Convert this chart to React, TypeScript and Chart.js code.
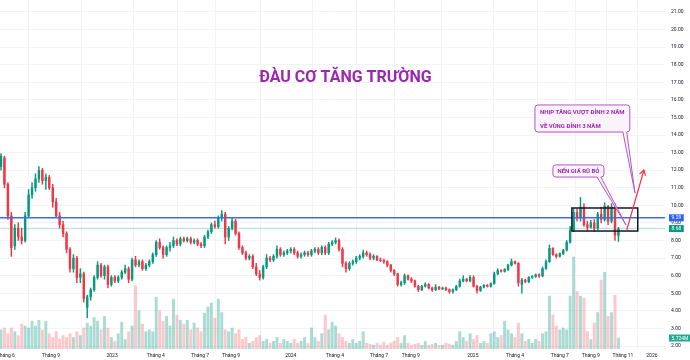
import React, { useEffect, useRef } from "react";
import { Chart, registerables } from "chart.js";

Chart.register(...registerables);

// ---- Weekly OHLC (price, thousand VND) ----
const OPEN = [
  12.2, 12.7, 11.2, 9.4, 7.7, 8.7, 8.2, 8.0, 9.4, 10.6,
  11.0, 11.5, 12.0, 11.4, 11.6, 11.0, 10.2, 9.4, 8.9, 8.4,
  7.5, 6.4, 7.0, 5.9, 6.1, 4.2, 4.8, 5.2, 5.9, 6.6,
  6.0, 6.5, 5.5, 5.9, 5.7, 5.9, 6.2, 6.4, 5.8, 6.9,
  6.6, 6.8, 6.4, 6.6, 6.8, 7.2, 7.9, 7.6, 7.2, 7.6,
  7.7, 8.0, 7.8, 8.1, 8.0, 8.1, 7.9, 8.0, 7.8, 7.7,
  8.2, 8.5, 8.9, 8.8, 9.3, 9.5, 8.2, 8.7, 9.1, 8.4,
  7.6, 7.3, 7.0, 7.1, 6.5, 6.1, 5.9, 6.5, 7.0, 6.9,
  7.1, 7.5, 7.2, 7.3, 7.4, 7.5, 7.3, 7.1, 7.2, 7.3,
  7.2, 7.4, 7.5, 7.3, 7.6, 7.3, 7.8, 7.9, 8.0, 7.5,
  6.7, 6.4, 6.7, 6.8, 7.0, 7.1, 7.3, 7.2, 7.0, 7.1,
  6.9, 6.85, 6.8, 6.6, 6.3, 6.1, 5.5, 5.6, 6.0, 5.8,
  5.7, 5.4, 5.2, 5.4, 5.5, 5.3, 5.2, 5.35, 5.25, 5.3,
  5.2, 5.1, 5.2, 5.4, 5.7, 5.8, 5.7, 5.9, 5.4, 5.15,
  5.35, 5.45, 5.4, 5.55, 6.1, 6.3, 6.25, 6.35, 6.6, 6.8,
  6.7, 5.5, 5.75, 5.65, 5.9, 5.95, 6.05, 5.98, 6.4, 6.8,
  7.55, 7.2, 7.1, 7.25, 7.45, 7.9, 8.6, 9.6, 9.3, 9.9,
  8.9, 8.75, 9.0, 8.7, 9.5, 9.2, 9.95, 9.1, 9.9, 8.3,
];
const HIGH = [
  12.95, 12.8, 11.3, 9.6, 8.9, 9.0, 8.7, 9.6, 10.9, 11.3,
  11.8, 12.2, 12.1, 11.8, 11.7, 11.2, 10.4, 9.6, 9.1, 8.5,
  7.6, 7.2, 7.1, 6.4, 6.2, 4.9, 5.3, 6.0, 6.8, 6.7,
  6.6, 6.6, 6.0, 6.0, 6.0, 6.3, 6.6, 6.5, 7.0, 7.1,
  6.9, 6.9, 6.7, 6.9, 7.3, 8.0, 8.1, 7.7, 7.7, 7.9,
  8.2, 8.1, 8.2, 8.2, 8.2, 8.2, 8.1, 8.1, 7.9, 8.3,
  8.6, 9.0, 9.1, 9.4, 9.7, 9.6, 8.8, 9.3, 9.2, 8.5,
  7.7, 7.4, 7.2, 7.2, 6.7, 6.3, 6.6, 7.2, 7.1, 7.2,
  7.7, 7.6, 7.4, 7.5, 7.6, 7.6, 7.4, 7.3, 7.4, 7.4,
  7.5, 7.6, 7.6, 7.7, 7.7, 7.9, 8.0, 8.15, 8.1, 7.6,
  6.8, 6.8, 6.9, 7.1, 7.2, 7.45, 7.4, 7.3, 7.2, 7.15,
  7.0, 6.95, 6.85, 6.65, 6.35, 6.15, 5.7, 6.1, 6.05, 5.9,
  5.75, 5.45, 5.45, 5.6, 5.55, 5.35, 5.5, 5.4, 5.35, 5.35,
  5.25, 5.25, 5.45, 5.8, 6.0, 5.85, 6.0, 6.0, 5.45, 5.4,
  5.5, 5.5, 5.6, 6.2, 6.4, 6.35, 6.4, 6.65, 6.95, 6.85,
  6.75, 5.85, 5.8, 5.95, 6.0, 6.1, 6.1, 6.5, 6.9, 7.75,
  7.6, 7.25, 7.3, 7.5, 8.0, 8.8, 9.8, 9.8, 10.45, 10.1,
  9.1, 9.15, 9.2, 9.6, 9.9, 10.15, 10.0, 10.1, 10.1, 8.75,
];
const LOW = [
  12.0, 11.0, 9.2, 7.1, 7.5, 8.0, 7.8, 7.9, 9.3, 10.4,
  10.8, 11.3, 11.2, 10.9, 10.9, 9.9, 9.3, 8.7, 8.2, 7.3,
  6.2, 6.2, 5.6, 5.6, 4.5, 3.6, 4.6, 5.1, 5.8, 5.9,
  5.8, 5.3, 5.4, 5.6, 5.6, 5.8, 6.1, 5.6, 5.7, 6.5,
  6.5, 6.3, 6.3, 6.5, 6.7, 7.1, 7.5, 7.0, 7.1, 7.4,
  7.6, 7.7, 7.7, 7.9, 7.9, 7.8, 7.8, 7.7, 7.6, 7.6,
  8.1, 8.4, 8.7, 8.7, 9.1, 7.8, 8.0, 8.6, 8.3, 7.5,
  7.2, 6.9, 6.9, 6.4, 6.0, 5.75, 5.8, 6.4, 6.8, 6.8,
  7.0, 7.1, 7.1, 7.2, 7.3, 7.2, 7.0, 7.0, 7.1, 7.1,
  7.1, 7.3, 7.2, 7.2, 7.2, 7.2, 7.7, 7.8, 7.4, 6.5,
  6.2, 6.3, 6.6, 6.7, 6.9, 7.0, 7.1, 6.9, 6.9, 6.85,
  6.8, 6.7, 6.5, 6.2, 6.0, 5.4, 5.4, 5.5, 5.75, 5.6,
  5.35, 5.1, 5.15, 5.35, 5.25, 5.1, 5.15, 5.2, 5.2, 5.15,
  5.0, 5.0, 5.15, 5.35, 5.65, 5.65, 5.65, 5.35, 5.0, 5.1,
  5.3, 5.35, 5.35, 5.5, 6.05, 6.2, 6.2, 6.3, 6.55, 6.65,
  5.4, 5.0, 5.6, 5.6, 5.85, 5.9, 5.9, 5.95, 6.35, 6.75,
  7.15, 7.0, 7.05, 7.2, 7.4, 7.85, 8.5, 9.1, 9.1, 8.8,
  8.55, 8.7, 8.5, 8.6, 9.0, 9.1, 8.9, 9.0, 8.0, 7.95,
];
const CLOSE = [
  12.8, 11.2, 9.4, 7.6, 8.7, 8.2, 8.0, 9.4, 10.6, 11.0,
  11.5, 12.0, 11.4, 11.6, 11.0, 10.2, 9.4, 8.9, 8.4, 7.5,
  6.4, 7.0, 5.9, 6.1, 4.7, 4.8, 5.2, 5.9, 6.6, 6.0,
  6.5, 5.5, 5.9, 5.7, 5.9, 6.2, 6.4, 5.8, 6.9, 6.6,
  6.8, 6.4, 6.6, 6.8, 7.2, 7.9, 7.6, 7.2, 7.6, 7.7,
  8.0, 7.8, 8.1, 8.0, 8.1, 7.9, 8.0, 7.8, 7.7, 8.2,
  8.5, 8.9, 8.8, 9.3, 9.5, 8.2, 8.7, 9.1, 8.4, 7.6,
  7.3, 7.0, 7.1, 6.5, 6.1, 5.9, 6.5, 7.0, 6.9, 7.1,
  7.5, 7.2, 7.3, 7.4, 7.5, 7.3, 7.1, 7.2, 7.3, 7.2,
  7.4, 7.5, 7.3, 7.6, 7.3, 7.8, 7.9, 8.0, 7.5, 6.7,
  6.4, 6.7, 6.8, 7.0, 7.1, 7.3, 7.2, 7.0, 7.1, 6.9,
  6.85, 6.8, 6.6, 6.3, 6.1, 5.5, 5.6, 6.0, 5.8, 5.7,
  5.4, 5.2, 5.4, 5.5, 5.3, 5.2, 5.35, 5.25, 5.3, 5.2,
  5.1, 5.2, 5.4, 5.7, 5.8, 5.7, 5.9, 5.4, 5.15, 5.35,
  5.45, 5.4, 5.55, 6.1, 6.3, 6.25, 6.35, 6.6, 6.8, 6.7,
  5.6, 5.75, 5.65, 5.9, 5.95, 6.05, 5.98, 6.4, 6.8, 7.55,
  7.2, 7.1, 7.25, 7.45, 7.9, 8.6, 9.6, 9.3, 9.9, 8.9,
  8.75, 9.0, 8.7, 9.5, 9.2, 9.95, 9.1, 9.9, 8.3, 8.68,
];
// weekly volume, millions of shares
const VOLUME = [
  10, 11, 8, 11, 9, 7, 13, 12, 11, 14.5,
  12, 15, 10, 14.5, 8, 6, 9, 5, 7, 6,
  8, 6, 9, 7, 11, 13.5, 12, 16.5, 14.5, 10,
  17, 11, 6, 4, 8, 14, 5, 9, 12, 33,
  20, 13, 9, 10, 9, 27, 20, 14.5, 17, 12,
  26, 17.7, 15, 13, 15, 10, 13.5, 11, 9, 18.7,
  22, 24, 16, 26, 19, 10, 9, 11, 8, 10,
  5, 6, 3, 4, 6, 7, 4, 5, 3, 4,
  6, 3, 5, 4, 3, 5, 3, 4, 6, 3,
  11, 6, 4, 8, 17.7, 10, 14, 12, 8, 6,
  4, 3, 5, 3, 4, 9, 3, 2.5, 2, 3,
  2, 3.5, 2, 3, 4, 6, 3, 7, 3, 2,
  2.5, 3, 2, 4, 2, 2.5, 3, 2, 2, 3,
  2.5, 2, 4, 9, 6, 4, 8, 5, 7, 3,
  4, 3, 8, 9, 6, 7, 14.5, 10, 8, 6,
  13.5, 8, 4, 5, 3, 5, 4, 8, 9, 27.6,
  17.7, 12, 10, 11, 10, 27.6, 48, 30, 27.6, 26.5,
  9, 5, 13.5, 19, 36, 40, 17, 19, 28, 5.724,
];

// ---- time axis (week index positions of the month / year labels) ----
const X_TICK_POS = [1.4, 14.5, 32.2, 44.9, 57.7, 66.7, 84, 96.8, 109.6, 118.8, 136.8, 149, 162, 171, 180.3, 188.7];
const X_TICK_LABELS = ["Tháng 6", "Tháng 9", "2023", "Tháng 4", "Tháng 7", "Tháng 9", "2024", "Tháng 4", "Tháng 7", "Tháng 9", "2025", "Tháng 4", "Tháng 7", "Tháng 9", "Tháng 11", "2026"];
const X_MIN = -0.29;
const X_MAX = 192.5;
const Y_MIN = 1.83;
const Y_MAX = 21.68;
const VOL_MAX = 182;

// ---- levels & drawings ----
const SUPPORT_LEVEL = 9.29;
const LAST_PRICE = 8.68;
const LAST_VOLUME_LABEL = "5.724M";
const TITLE = "ĐÀU CƠ TĂNG TRƯỜNG";
const TITLE_AT = { x: 99.85, y: 17.02 };
const RANGE_BOX = { x0: 165.5, x1: 184.6, top: 9.85, bottom: 8.54 };
const ARROW = { x0: 181.4, y0: 8.6, x1: 186.4, y1: 12.01 };
const NOTE_1 = ["NHỊP TĂNG VƯỢT ĐỈNH 2 NĂM", "VỀ VÙNG ĐỈNH 3 NĂM"];
const NOTE_1_BOX = { x0: 154.8, x1: 182.3, top: 15.71, bottom: 14.17, tail0: 180.3, tail1: 181.4, tipX: 183.8, tipY: 10.7 };
const NOTE_2 = ["NẾN GIÁ RŨ BỎ"];
const NOTE_2_BOX = { x0: 160.0, x1: 174.8, top: 12.3, bottom: 11.61, tail0: 172.8, tail1: 173.9, tipX: 181.2, tipY: 8.88 };

const UP = "#089981";
const DOWN = "#f23645";
const PURPLE = "#9c27b0";
const FONT = "Roboto, 'Noto Sans', sans-serif";

function calloutPath(ctx: CanvasRenderingContext2D, l: number, t: number, r: number, b: number, bl: number, br: number, tx: number, ty: number) {
  const rad = 3;
  ctx.beginPath();
  ctx.moveTo(l + rad, t);
  ctx.lineTo(r - rad, t);
  ctx.arcTo(r, t, r, t + rad, rad);
  ctx.lineTo(r, b - rad);
  ctx.arcTo(r, b, r - rad, b, rad);
  ctx.lineTo(br, b);
  ctx.lineTo(tx, ty);
  ctx.lineTo(bl, b);
  ctx.lineTo(l + rad, b);
  ctx.arcTo(l, b, l, b - rad, rad);
  ctx.lineTo(l, t + rad);
  ctx.arcTo(l, t, l + rad, t, rad);
  ctx.closePath();
}

const overlayPlugin = {
  id: "overlay",
  afterDatasetsDraw(chart: any) {
    const { ctx } = chart;
    const xs = chart.scales.x;
    const ys = chart.scales.y;
    const px = (v: number) => xs.getPixelForValue(v);
    const py = (v: number) => ys.getPixelForValue(v);
    ctx.save();

    // title
    ctx.font = `bold 16px ${FONT}`;
    ctx.fillStyle = PURPLE;
    ctx.textAlign = "center";
    ctx.textBaseline = "alphabetic";
    ctx.fillText(TITLE, px(TITLE_AT.x), py(TITLE_AT.y));

    // range box
    ctx.strokeStyle = "#131722";
    ctx.lineWidth = 1.5;
    ctx.strokeRect(px(RANGE_BOX.x0), py(RANGE_BOX.top), px(RANGE_BOX.x1) - px(RANGE_BOX.x0), py(RANGE_BOX.bottom) - py(RANGE_BOX.top));

    // callouts
    const notes = [
      { box: NOTE_1_BOX, lines: NOTE_1, center: false },
      { box: NOTE_2_BOX, lines: NOTE_2, center: true },
    ];
    for (const n of notes) {
      const l = px(n.box.x0), r = px(n.box.x1), t = py(n.box.top), b = py(n.box.bottom);
      calloutPath(ctx, l, t, r, b, px(n.box.tail0), px(n.box.tail1), px(n.box.tipX), py(n.box.tipY));
      ctx.fillStyle = "rgba(251,243,252,0.96)";
      ctx.fill();
      ctx.strokeStyle = "#b455c6";
      ctx.lineWidth = 1;
      ctx.stroke();
      ctx.fillStyle = PURPLE;
      ctx.font = `bold 6px ${FONT}`;
      ctx.textBaseline = "middle";
      if (n.center) {
        ctx.textAlign = "center";
        ctx.fillText(n.lines[0], (l + r) / 2, (t + b) / 2 + 0.5);
      } else {
        ctx.textAlign = "left";
        const step = (b - t) / n.lines.length;
        n.lines.forEach((s, k) => ctx.fillText(s, l + 5, t + step * (k + 0.5) + 1));
      }
    }

    // red arrow
    const ax0 = px(ARROW.x0), ay0 = py(ARROW.y0), ax1 = px(ARROW.x1), ay1 = py(ARROW.y1);
    ctx.strokeStyle = DOWN;
    ctx.lineWidth = 1.2;
    ctx.beginPath();
    ctx.moveTo(ax0, ay0);
    ctx.lineTo(ax1, ay1);
    const ang = Math.atan2(ay1 - ay0, ax1 - ax0);
    const hl = 6;
    ctx.moveTo(ax1 - hl * Math.cos(ang - 0.55), ay1 - hl * Math.sin(ang - 0.55));
    ctx.lineTo(ax1, ay1);
    ctx.lineTo(ax1 - hl * Math.cos(ang + 0.55), ay1 - hl * Math.sin(ang + 0.55));
    ctx.stroke();
    ctx.restore();
  },
  afterDraw(chart: any) {
    const { ctx, chartArea } = chart;
    const ys = chart.scales.y;
    const vs = chart.scales.yVol;
    const badges = [
      { y: ys.getPixelForValue(SUPPORT_LEVEL), text: SUPPORT_LEVEL.toFixed(2), color: "#2962ff" },
      { y: ys.getPixelForValue(LAST_PRICE), text: LAST_PRICE.toFixed(2), color: UP },
      { y: vs.getPixelForValue(VOLUME[VOLUME.length - 1]), text: LAST_VOLUME_LABEL, color: "#22ab94" },
    ];
    ctx.save();
    ctx.font = `5px ${FONT}`;
    ctx.textBaseline = "middle";
    ctx.textAlign = "left";
    for (const bd of badges) {
      const w = ctx.measureText(bd.text).width + 5;
      const x = chartArea.right + 4;
      ctx.fillStyle = bd.color;
      ctx.fillRect(x, bd.y - 3.5, w, 7);
      ctx.fillStyle = "#ffffff";
      ctx.fillText(bd.text, x + 2.5, bd.y + 0.3);
    }
    ctx.restore();
  },
};

export default function App() {
  const ref = useRef<HTMLCanvasElement>(null);

  useEffect(() => {
    const canvas = ref.current;
    if (!canvas) return;
    const idx = CLOSE.map((_, i) => i);
    const isUp = idx.map((i) => CLOSE[i] >= OPEN[i]);
    const candleColors = isUp.map((u) => (u ? UP : DOWN));
    const volColors = isUp.map((u) => (u ? "rgba(8,153,129,0.34)" : "rgba(242,54,69,0.27)"));

    const chart = new Chart(canvas, {
      type: "bar",
      data: {
        datasets: [
          {
            type: "bar",
            label: "Volume",
            yAxisID: "yVol",
            data: idx.map((i) => ({ x: i, y: VOLUME[i] })),
            backgroundColor: volColors,
            barThickness: 2.3,
            grouped: false,
            order: 5,
          },
          {
            type: "bar",
            label: "Wick",
            yAxisID: "y",
            data: idx.map((i) => ({ x: i, y: [LOW[i], HIGH[i]] })),
            backgroundColor: candleColors,
            barThickness: 0.8,
            grouped: false,
            order: 4,
          },
          {
            type: "bar",
            label: "Body",
            yAxisID: "y",
            data: idx.map((i) => ({ x: i, y: [OPEN[i], CLOSE[i]] })),
            backgroundColor: candleColors,
            barThickness: 1.8,
            grouped: false,
            order: 3,
          },
          {
            type: "line",
            label: "Last",
            yAxisID: "y",
            data: [{ x: X_MIN, y: LAST_PRICE }, { x: X_MAX, y: LAST_PRICE }],
            borderColor: "rgba(8,153,129,0.25)",
            borderWidth: 1.5,
            pointRadius: 0,
            order: 2,
          },
          {
            type: "line",
            label: "Support",
            yAxisID: "y",
            data: [{ x: X_MIN, y: SUPPORT_LEVEL }, { x: X_MAX, y: SUPPORT_LEVEL }],
            borderColor: "#3a6cf4",
            borderWidth: 1.5,
            pointRadius: 0,
            order: 1,
          },
        ] as any,
      },
      options: {
        responsive: false,
        devicePixelRatio: 1,
        animation: false,
        events: [],
        layout: { padding: 0 },
        plugins: { legend: { display: false }, tooltip: { enabled: false } },
        scales: {
          x: {
            type: "linear",
            min: X_MIN,
            max: X_MAX,
            offset: false,
            grid: { color: "#f2f3f5", drawTicks: false },
            border: { display: false },
            afterBuildTicks: (scale: any) => {
              scale.ticks = X_TICK_POS.map((v) => ({ value: v }));
            },
            afterFit: (scale: any) => {
              scale.height = 11;
              scale.paddingLeft = 0;
              scale.paddingRight = 0;
            },
            ticks: {
              autoSkip: false,
              maxRotation: 0,
              minRotation: 0,
              padding: 4,
              color: "#131722",
              font: { size: 5, family: FONT },
              callback: (_v: any, i: number) => X_TICK_LABELS[i] ?? "",
            },
          },
          y: {
            type: "linear",
            position: "right",
            min: Y_MIN,
            max: Y_MAX,
            grid: { color: "#f2f3f5", drawTicks: false },
            border: { display: false },
            afterBuildTicks: (scale: any) => {
              scale.ticks = scale.ticks.filter((t: any) => Math.abs(t.value - Math.round(t.value)) < 1e-6);
            },
            afterFit: (scale: any) => {
              scale.width = 25;
              scale.paddingTop = 0;
              scale.paddingBottom = 0;
            },
            ticks: {
              stepSize: 1,
              includeBounds: false,
              padding: 6,
              color: "#131722",
              font: { size: 5, family: FONT },
              callback: (v: any) => Number(v).toFixed(2),
            },
          },
          yVol: {
            type: "linear",
            display: false,
            min: 0,
            max: VOL_MAX,
          },
        },
      } as any,
      plugins: [overlayPlugin],
    });
    return () => chart.destroy();
  }, []);

  return (
    <div style={{ position: "absolute", left: 0, top: 0, width: 690, height: 360, background: "#ffffff" }}>
      <canvas ref={ref} width={690} height={360} style={{ display: "block", width: 690, height: 360 }} />
    </div>
  );
}
